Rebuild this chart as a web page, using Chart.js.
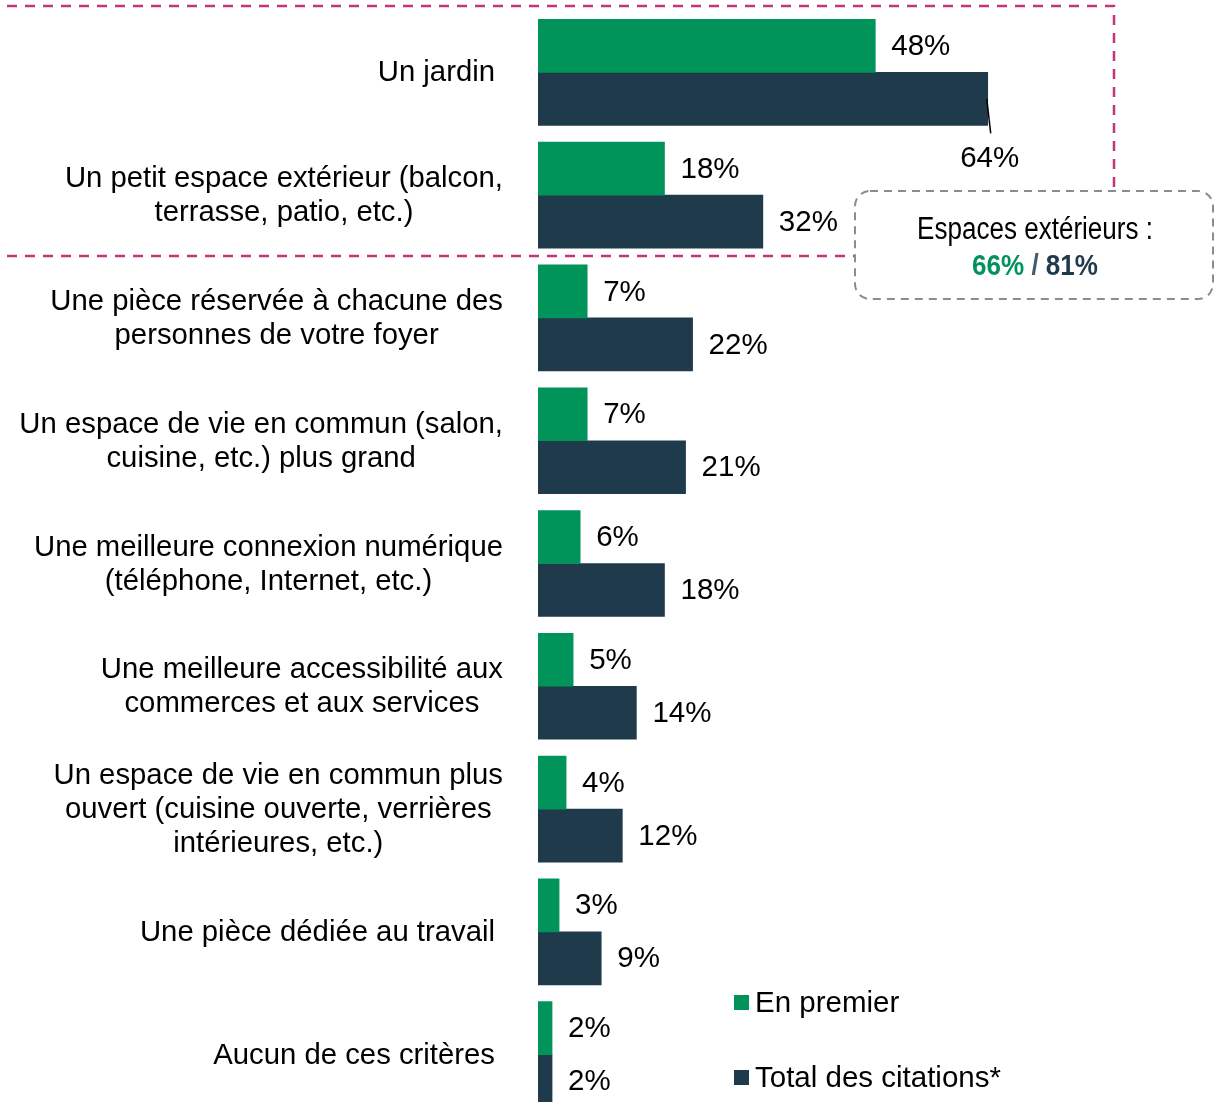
<!DOCTYPE html>
<html><head><meta charset="utf-8">
<script src="https://cdn.jsdelivr.net/npm/chart.js@4/dist/chart.umd.min.js"></script>
<style>html,body{margin:0;padding:0;background:#fff;overflow:hidden}</style>
</head><body>
<canvas id="c" width="1214" height="1116"></canvas>
<script>
const categories = [
  ["Un jardin"],
  ["Un petit espace extérieur (balcon,", "terrasse, patio, etc.)"],
  ["Une pièce réservée à chacune des", "personnes de votre foyer"],
  ["Un espace de vie en commun (salon,", "cuisine, etc.) plus grand"],
  ["Une meilleure connexion numérique", "(téléphone, Internet, etc.)"],
  ["Une meilleure accessibilité aux", "commerces et aux services"],
  ["Un espace de vie en commun plus", "ouvert (cuisine ouverte, verrières", "intérieures, etc.)"],
  ["Une pièce dédiée au travail"],
  ["Aucun de ces critères"]
];
const enPremier = [48, 18, 7, 7, 6, 5, 4, 3, 2];
const totalCitations = [64, 32, 22, 21, 18, 14, 12, 9, 2];
const seriesNames = ["En premier", "Total des citations*"];
const calloutTitle = "Espaces extérieurs :";
const calloutFirst = "66%";
const calloutTotal = "81%";

const GREEN = "#00935A";
const DARK = "#1F3A4A";
const FONT = "'Liberation Sans', Arial, sans-serif";
const FS = 29.5;
const FS_CAT = 29.3;

const decorPlugin = {
  id: 'decor',
  afterDatasetsDraw(chart) {
    const ctx = chart.ctx;
    ctx.save();
    ctx.font = FS + "px " + FONT;
    ctx.fillStyle = "#000";
    chart.data.datasets.forEach((ds, di) => {
      const meta = chart.getDatasetMeta(di);
      meta.data.forEach((el, i) => {
        const txt = ds.data[i] + "%";
        if (di === 1 && i === 0) {
          const bottom = el.y + el.height / 2;
          ctx.strokeStyle = "#000"; ctx.lineWidth = 1.5; ctx.setLineDash([]);
          ctx.beginPath(); ctx.moveTo(el.x - 1, el.y); ctx.lineTo(el.x + 3, bottom + 8); ctx.stroke();
          ctx.textAlign = "center"; ctx.textBaseline = "middle";
          ctx.fillText(txt, el.x + 2, bottom + 33);
        } else {
          ctx.textAlign = "left"; ctx.textBaseline = "middle";
          ctx.fillText(txt, el.x + 16, el.y + 1);
        }
      });
    });
    ctx.restore();
  },
  afterDraw(chart) {
    const ctx = chart.ctx;
    const y = chart.scales.y;
    ctx.save();
    ctx.font = FS_CAT + "px " + FONT;
    ctx.fillStyle = "#000";
    ctx.textBaseline = "middle";
    ctx.textAlign = "center";
    const lh = 34;
    categories.forEach((lines, i) => {
      const cy = y.getPixelForValue(i);
      const right = lines.length === 1 ? 495 : 503;
      const w = Math.max(...lines.map(l => ctx.measureText(l).width));
      const cx = right - w / 2;
      lines.forEach((l, k) => {
        ctx.fillText(l, cx, cy + 1 + (k - (lines.length - 1) / 2) * lh);
      });
    });
    ctx.font = FS + "px " + FONT;
    const legY = [1002, 1077];
    chart.data.datasets.forEach((ds, di) => {
      ctx.fillStyle = ds.backgroundColor;
      ctx.fillRect(734, legY[di] - 7, 15, 15);
      ctx.fillStyle = "#000";
      ctx.textAlign = "left";
      ctx.fillText(ds.label, 755, legY[di] + 2);
    });
    ctx.strokeStyle = "#C2357E"; ctx.lineWidth = 2.5; ctx.setLineDash([10, 8]);
    ctx.beginPath();
    ctx.moveTo(7, 6); ctx.lineTo(1114, 6); ctx.lineTo(1114, 191);
    ctx.moveTo(7, 256); ctx.lineTo(855, 256);
    ctx.stroke();
    ctx.strokeStyle = "#8C8C8C"; ctx.lineWidth = 2; ctx.setLineDash([8, 6]);
    ctx.beginPath();
    ctx.roundRect(855, 191, 358, 108, 15);
    ctx.stroke();
    ctx.setLineDash([]);
    const drawScaled = (parts, cx, cy, size, bold, targetW) => {
      ctx.font = (bold ? "bold " : "") + size + "px " + FONT;
      const widths = parts.map(p => ctx.measureText(p[0]).width);
      const total = widths.reduce((a, b) => a + b, 0);
      const s = targetW / total;
      ctx.save();
      ctx.translate(cx - targetW / 2, cy);
      ctx.scale(s, 1);
      ctx.textAlign = "left"; ctx.textBaseline = "middle";
      let x = 0;
      parts.forEach((p, k) => { ctx.fillStyle = p[1]; ctx.fillText(p[0], x, 0); x += widths[k]; });
      ctx.restore();
    };
    drawScaled([[calloutTitle, "#000"]], 1035, 230, 31, false, 236);
    drawScaled([[calloutFirst, GREEN], [" / ", "#44596B"], [calloutTotal, DARK]], 1035, 267, 30, true, 126);
    ctx.restore();
  }
};

new Chart(document.getElementById('c'), {
  type: 'bar',
  data: {
    labels: categories,
    datasets: [
      { label: seriesNames[0], data: enPremier, backgroundColor: GREEN, barThickness: 53 },
      { label: seriesNames[1], data: totalCitations, backgroundColor: DARK, barThickness: 53 }
    ]
  },
  options: {
    indexAxis: 'y',
    responsive: false,
    animation: false,
    layout: { padding: { left: 538, top: 11, right: 0, bottom: 0 } },
    scales: {
      x: { display: false, min: 0, max: 96.2 },
      y: { display: false }
    },
    plugins: { legend: { display: false }, tooltip: { enabled: false } }
  },
  plugins: [decorPlugin]
});
</script>
</body></html>
